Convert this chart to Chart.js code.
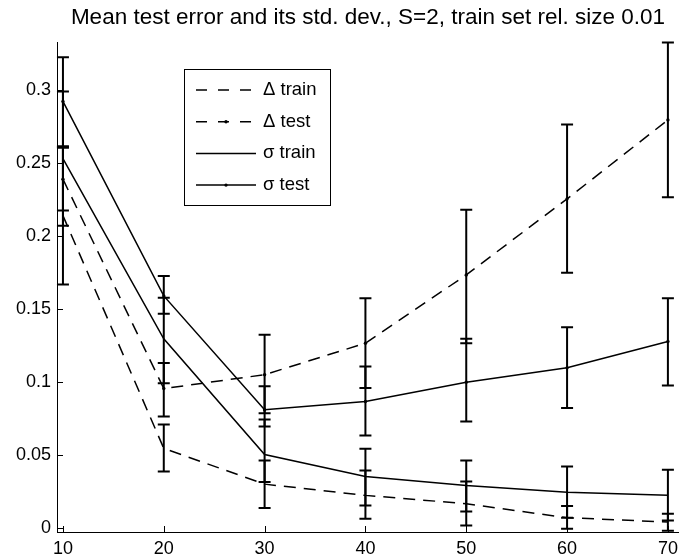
<!DOCTYPE html>
<html>
<head>
<meta charset="utf-8">
<script src="https://cdn.jsdelivr.net/npm/chart.js@4"></script>
<style>
  html, body { margin: 0; padding: 0; background: #fff; }
</style>
</head>
<body>
<canvas id="errChart" width="684" height="560"></canvas>
<script>
// x positions (S values) and axis ticks
const xValues = [10, 20, 30, 40, 50, 60, 70];
const xTicks = [10, 20, 30, 40, 50, 60, 70];
const yTicks = [0, 0.05, 0.1, 0.15, 0.2, 0.25, 0.3];

// Delta train
const deltaTrain     = [0.214, 0.0545, 0.030, 0.0223, 0.0166, 0.007, 0.004];
const deltaTrainLow  = [0.1668, 0.0387, 0.0136, 0.0063, 0.0017, -0.0005, -0.002];
const deltaTrainHigh = [0.2610, 0.0709, 0.0462, 0.0394, 0.0318, 0.0150, 0.0097];

// Delta test
const deltaTest     = [0.239, 0.0955, 0.105, 0.1266, 0.1734, 0.2255, 0.2796];
const deltaTestLow  = [0.2175, 0.0764, 0.0786, 0.0958, 0.1266, 0.1748, 0.2266];
const deltaTestHigh = [0.2615, 0.1131, 0.1323, 0.1574, 0.2180, 0.2764, 0.3327];

// sigma train
const sigmaTrain     = [0.253, 0.1296, 0.0503, 0.0353, 0.0291, 0.0245, 0.0223];
const sigmaTrainLow  = [0.207, 0.0992, 0.0314, 0.0154, 0.0113, 0.0070, 0.0051];
const sigmaTrainHigh = [0.299, 0.1577, 0.0743, 0.0542, 0.0462, 0.0421, 0.0398];

// sigma test
const sigmaTest     = [0.2923, 0.159, 0.081, 0.0866, 0.0999, 0.1097, 0.1277];
const sigmaTestLow  = [0.2605, 0.1467, 0.0695, 0.0634, 0.0729, 0.0821, 0.0976];
const sigmaTestHigh = [0.3225, 0.1727, 0.0971, 0.1106, 0.1296, 0.1376, 0.1574];

const FONT = '"Liberation Sans", Arial, Helvetica, sans-serif';
const DASH = [12, 8];

function toPoints(ys) {
    return xValues.map((x, i) => ({ x: x, y: ys[i] }));
}

function makeSet(label, ys, low, high, dashed, dots) {
    return {
        label: label,
        data: toPoints(ys),
        errLow: low,
        errHigh: high,
        borderColor: '#000',
        backgroundColor: '#000',
        borderWidth: 1.5,
        borderDash: dashed ? DASH : [],
        pointRadius: dots ? 1.7 : 0,
        pointBorderWidth: 0,
        tension: 0,
        fill: false
    };
}

// error bars with small caps
const errorBars = {
    id: 'errorBars',
    afterDatasetsDraw(chart) {
        const { ctx, scales: { x, y } } = chart;
        ctx.save();
        ctx.strokeStyle = '#000';
        ctx.lineWidth = 2;
        chart.data.datasets.forEach(ds => {
            xValues.forEach((xv, i) => {
                const px = x.getPixelForValue(xv);
                const lo = y.getPixelForValue(ds.errLow[i]);
                const hi = y.getPixelForValue(ds.errHigh[i]);
                ctx.beginPath();
                ctx.moveTo(px, lo); ctx.lineTo(px, hi);
                ctx.moveTo(px - 6, lo); ctx.lineTo(px + 6, lo);
                ctx.moveTo(px - 6, hi); ctx.lineTo(px + 6, hi);
                ctx.stroke();
            });
        });
        ctx.restore();
    }
};

// matlab style ticks pointing into the axes
const inwardTicks = {
    id: 'inwardTicks',
    afterDraw(chart) {
        const { ctx, chartArea, scales: { x, y } } = chart;
        ctx.save();
        ctx.strokeStyle = '#000';
        ctx.lineWidth = 1;
        ctx.beginPath();
        x.ticks.forEach(t => {
            const px = Math.round(x.getPixelForValue(t.value)) + 0.5;
            ctx.moveTo(px, chartArea.bottom);
            ctx.lineTo(px, chartArea.bottom - 6);
        });
        y.ticks.forEach(t => {
            const py = Math.round(y.getPixelForValue(t.value)) + 0.5;
            ctx.moveTo(chartArea.left, py);
            ctx.lineTo(chartArea.left + 6, py);
        });
        ctx.stroke();
        ctx.restore();
    }
};

// boxed legend inside the plot
const boxLegend = {
    id: 'boxLegend',
    afterDraw(chart) {
        const ctx = chart.ctx;
        const left = 184.5, top = 69.5, w = 146, h = 136;
        ctx.save();
        ctx.fillStyle = '#fff';
        ctx.fillRect(left, top, w, h);
        ctx.strokeStyle = '#000';
        ctx.lineWidth = 1;
        ctx.strokeRect(left, top, w, h);
        ctx.font = '18.5px ' + FONT;
        ctx.textBaseline = 'middle';
        chart.data.datasets.forEach((ds, i) => {
            const yy = 90 + i * 31.7;
            ctx.beginPath();
            ctx.setLineDash(ds.borderDash.length ? [11, 11] : []);
            ctx.lineWidth = ds.borderWidth;
            ctx.moveTo(196, yy);
            ctx.lineTo(256, yy);
            ctx.stroke();
            ctx.setLineDash([]);
            if (ds.pointRadius > 0) {
                ctx.beginPath();
                ctx.arc(226, yy, ds.pointRadius, 0, Math.PI * 2);
                ctx.fillStyle = '#000';
                ctx.fill();
            }
            ctx.fillStyle = '#000';
            ctx.fillText(ds.label, 263, yy);
        });
        ctx.restore();
    }
};

const ctx = document.getElementById('errChart').getContext('2d');
const errChart = new Chart(ctx, {
    type: 'line',
    data: {
        datasets: [
            makeSet('\u0394 train', deltaTrain, deltaTrainLow, deltaTrainHigh, true, false),
            makeSet('\u0394 test', deltaTest, deltaTestLow, deltaTestHigh, true, true),
            makeSet('\u03c3 train', sigmaTrain, sigmaTrainLow, sigmaTrainHigh, false, false),
            makeSet('\u03c3 test', sigmaTest, sigmaTestLow, sigmaTestHigh, false, true)
        ]
    },
    options: {
        responsive: false,
        animation: false,
        layout: { padding: 0 },
        plugins: {
            legend: { display: false },
            tooltip: { enabled: false },
            title: {
                display: true,
                fullSize: false,
                text: 'Mean test error and its std. dev., S=2, train set rel. size 0.01',
                color: '#000',
                font: { family: FONT, size: 22.5, weight: 'normal', lineHeight: 1.2 },
                padding: { top: 4, bottom: 11 }
            }
        },
        scales: {
            x: {
                type: 'linear',
                min: 9.41,
                max: 71.1,
                afterBuildTicks: scale => { scale.ticks = xTicks.map(v => ({ value: v })); },
                afterFit: scale => { scale.height = 28; },
                grid: { display: false, drawTicks: false },
                border: { display: true, color: '#000', width: 1 },
                ticks: {
                    color: '#000',
                    padding: 6,
                    maxRotation: 0,
                    font: { family: FONT, size: 18 },
                    callback: v => String(v)
                }
            },
            y: {
                type: 'linear',
                min: -0.0028,
                max: 0.333,
                afterBuildTicks: scale => { scale.ticks = yTicks.map(v => ({ value: v })); },
                afterFit: scale => { scale.width = 57; },
                grid: { display: false, drawTicks: false },
                border: { display: true, color: '#000', width: 1 },
                ticks: {
                    color: '#000',
                    padding: 6,
                    font: { family: FONT, size: 18 },
                    callback: v => String(+v.toFixed(2))
                }
            }
        }
    },
    plugins: [errorBars, inwardTicks, boxLegend]
});
</script>
</body>
</html>
